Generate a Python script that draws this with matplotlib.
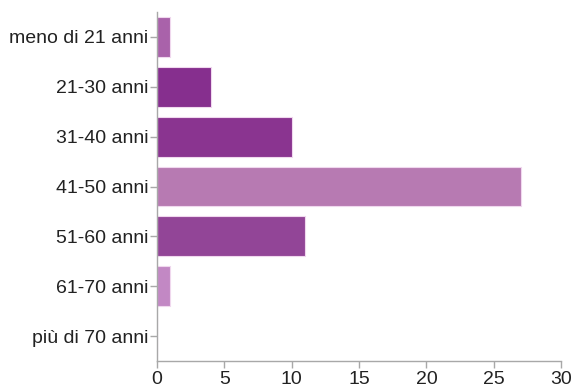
import matplotlib
matplotlib.use("Agg")
import matplotlib.pyplot as plt

categories = ["meno di 21 anni", "21-30 anni", "31-40 anni", "41-50 anni",
              "51-60 anni", "61-70 anni", "più di 70 anni"]
counts = [1, 4, 10, 27, 11, 1, 0]
colors = ["#a962aa", "#862f8e", "#8a3490", "#b77ab2", "#924597", "#c288c4", "#c288c4"]
xticks = [0, 5, 10, 15, 20, 25, 30]

plt.rcParams["font.family"] = ["Liberation Sans", "DejaVu Sans"]

fig = plt.figure(figsize=(5.75, 3.87), dpi=100)
ax = fig.add_axes([0.273, 0.067, 0.703, 0.902])

ypos = list(range(len(categories)))
ax.barh(ypos, counts, height=0.8, color=colors, edgecolor="#f0d8ee", linewidth=0.8)

ax.set_ylim(len(categories) - 0.5, -0.5)
ax.set_xlim(0, 30)
ax.set_yticks(ypos)
ax.set_yticklabels(categories)
ax.set_xticks(xticks)

for side in ("top", "right"):
    ax.spines[side].set_visible(False)
for side in ("left", "bottom"):
    ax.spines[side].set_color("#a8a8a8")
    ax.spines[side].set_linewidth(1.0)

ax.tick_params(axis="both", colors="#a8a8a8", length=5, width=1.0,
               labelcolor="#222222", labelsize=14)
ax.tick_params(axis="y", pad=1)
ax.tick_params(axis="x", pad=2)

fig.savefig("out.png", dpi=100)
